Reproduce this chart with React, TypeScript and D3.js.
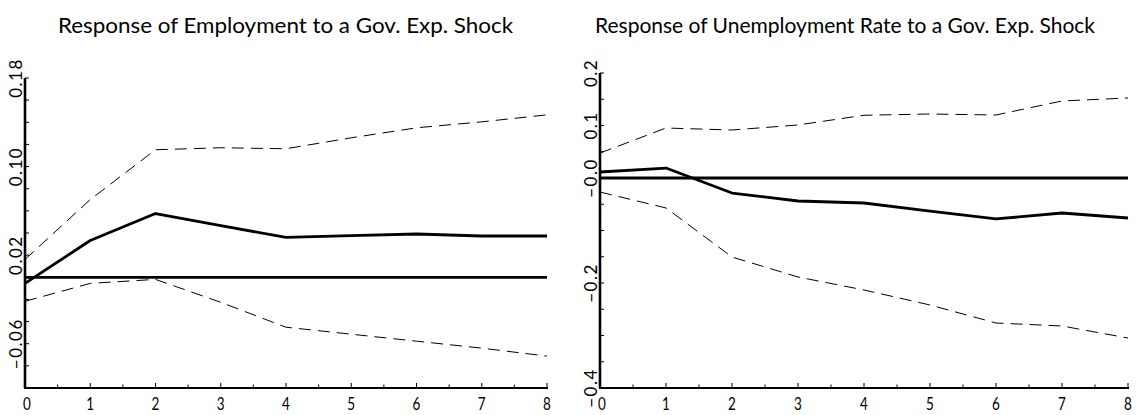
import React from "react";
import * as d3 from "d3";

const horizons = [0, 1, 2, 3, 4, 5, 6, 7, 8];

// Employment response
const empIrf = [-0.0055, 0.0332, 0.0576, 0.0467, 0.036, 0.0377, 0.0391, 0.0373, 0.0373];
const empUpper = [0.0161, 0.0702, 0.1152, 0.117, 0.1161, 0.126, 0.135, 0.1404, 0.1467];
const empLower = [-0.0217, -0.0055, -0.0019, -0.0226, -0.0451, -0.0514, -0.0577, -0.064, -0.0712];
const empTickLabels = [
  { v: 0.18, t: "0.18" },
  { v: 0.1, t: "0.10" },
  { v: 0.02, t: "0.02" },
  { v: -0.06, t: "\u22120.06" },
];

// Unemployment rate response
const unIrf = [0.0114, 0.019, -0.0286, -0.0438, -0.0476, -0.0629, -0.078, -0.0667, -0.0762];
const unUpper = [0.0476, 0.0952, 0.0914, 0.101, 0.1195, 0.1219, 0.12, 0.1467, 0.1524];
const unLower = [-0.0267, -0.0571, -0.1505, -0.1886, -0.2133, -0.2419, -0.2762, -0.2819, -0.3048];
const unTickLabels = [
  { v: 0.2, t: "0.2" },
  { v: 0.1, t: "0.1" },
  { v: 0.0, t: "\u22120.0" },
  { v: -0.2, t: "\u22120.2" },
  { v: -0.4, t: "\u22120.4" },
];

const FONT = "Lato, 'Open Sans', 'DejaVu Sans', sans-serif";

type PanelProps = {
  title: string;
  titleX0: number;
  titleX1: number;
  x0: number;
  x1: number;
  yTop: number;
  yBot: number;
  yMax: number;
  yMin: number;
  minorStep: number;
  irf: number[];
  upper: number[];
  lower: number[];
  labels: { v: number; t: string }[];
};

function PanelView(p: PanelProps) {
  const x = d3.scaleLinear().domain([0, 8]).range([p.x0, p.x1]);
  const y = d3.scaleLinear().domain([p.yMin, p.yMax]).range([p.yBot, p.yTop]);
  const line = d3
    .line<number>()
    .x((_, i) => x(horizons[i]))
    .y((d) => y(d));
  const yTicks: number[] = [];
  for (let v = p.yMax; v >= p.yMin - 1e-9; v -= p.minorStep) yTicks.push(v);
  const xTicks: number[] = [];
  for (let v = 0; v <= 8.0001; v += 0.5) xTicks.push(v);
  const axisBottom = p.yBot;
  return (
    <g>
      <text
        x={p.titleX0}
        y={33}
        fontFamily={FONT}
        fontWeight={400}
        fontSize={21}
        textLength={p.titleX1 - p.titleX0}
        lengthAdjust="spacingAndGlyphs"
        fill="#000"
      >
        {p.title}
      </text>
      <line x1={p.x0} x2={p.x1} y1={y(0)} y2={y(0)} stroke="#000" strokeWidth={2.8} />
      <path d={line(p.upper) || ""} fill="none" stroke="#000" strokeWidth={1} strokeDasharray="12,7" />
      <path d={line(p.lower) || ""} fill="none" stroke="#000" strokeWidth={1} strokeDasharray="12,7" />
      <path d={line(p.irf) || ""} fill="none" stroke="#000" strokeWidth={2.8} strokeLinejoin="round" />
      <line x1={p.x0} x2={p.x0} y1={p.yTop} y2={axisBottom} stroke="#000" strokeWidth={2.6} />
      <line x1={p.x0 - 1} x2={p.x1 + 1} y1={axisBottom} y2={axisBottom} stroke="#000" strokeWidth={2.2} />
      {yTicks.map((v, i) => (
        <line key={"yt" + i} x1={p.x0} x2={p.x0 + 4} y1={y(v)} y2={y(v)} stroke="#000" strokeWidth={1} />
      ))}
      {xTicks.map((v, i) => (
        <line
          key={"xt" + i}
          x1={x(v)}
          x2={x(v)}
          y1={axisBottom}
          y2={axisBottom - (Number.isInteger(v) ? 5 : 3.5)}
          stroke="#000"
          strokeWidth={1}
        />
      ))}
      {horizons.map((h) => {
        const cx = x(h) + (h === 0 ? 2 : 0);
        return (
          <text
            key={"xl" + h}
            x={cx}
            y={410}
            textAnchor="middle"
            fontFamily={FONT}
            fontWeight={400}
            fontSize={18}
            fill="#000"
            transform={`translate(${cx},410) scale(0.75,1) translate(${-cx},-410)`}
          >
            {h}
          </text>
        );
      })}
      {p.labels.map((l, i) => (
        <text
          key={"yl" + i}
          transform={`translate(${p.x0 - 10},${y(l.v)}) rotate(-90)`}
          textAnchor="middle"
          dominantBaseline="central"
          fontFamily={FONT}
          fontWeight={400}
          fontSize={17}
          letterSpacing={1.5}
          fill="#000"
        >
          {l.t}
        </text>
      ))}
    </g>
  );
}

export default function App() {
  return (
    <svg
      width={1136}
      height={415}
      style={{ position: "absolute", left: 0, top: 0, background: "#fff" }}
    >
      <rect width={1136} height={415} fill="#fff" />
      <PanelView
        title="Response of Employment to a Gov. Exp. Shock"
        titleX0={58}
        titleX1={513}
        x0={25}
        x1={547}
        yTop={78}
        yBot={388}
        yMax={0.18}
        yMin={-0.1}
        minorStep={0.02}
        irf={empIrf}
        upper={empUpper}
        lower={empLower}
        labels={empTickLabels}
      />
      <PanelView
        title="Response of Unemployment Rate to a Gov. Exp. Shock"
        titleX0={595}
        titleX1={1095}
        x0={600}
        x1={1128}
        yTop={73}
        yBot={388}
        yMax={0.2}
        yMin={-0.4}
        minorStep={0.05}
        irf={unIrf}
        upper={unUpper}
        lower={unLower}
        labels={unTickLabels}
      />
    </svg>
  );
}
